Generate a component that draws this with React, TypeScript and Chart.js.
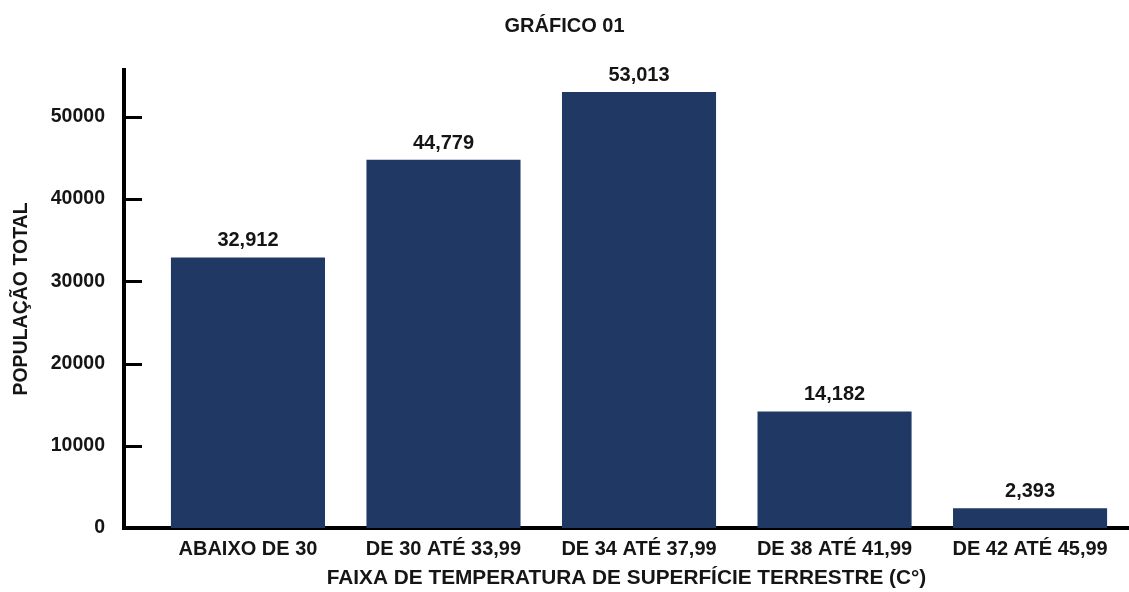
import React, { useEffect, useRef } from "react";
import { Chart, registerables } from "chart.js";

Chart.register(...registerables);

const categories = [
  "ABAIXO DE 30",
  "DE 30 ATÉ 33,99",
  "DE 34 ATÉ 37,99",
  "DE 38 ATÉ 41,99",
  "DE 42 ATÉ 45,99",
];
const population = [32912, 44779, 53013, 14182, 2393];
const yTicks = [0, 10000, 20000, 30000, 40000, 50000];

const FONT = "'Liberation Sans', Arial, sans-serif";
const BAR_COLOR = "#1F3864";
const TEXT_COLOR = "#151515";

const valueLabels = {
  id: "valueLabels",
  afterDatasetsDraw(chart: any) {
    const ctx = chart.ctx;
    const meta = chart.getDatasetMeta(0);
    ctx.save();
    ctx.font = `bold 20px ${FONT}`;
    ctx.fillStyle = TEXT_COLOR;
    ctx.textAlign = "center";
    ctx.textBaseline = "alphabetic";
    meta.data.forEach((bar: any, i: number) => {
      const v = population[i];
      ctx.fillText(v.toLocaleString("en-US"), bar.x, bar.y - 11);
    });
    ctx.restore();
  },
};

const innerTicks = {
  id: "innerTicks",
  afterDraw(chart: any) {
    const ctx = chart.ctx;
    const y = chart.scales.y;
    const left = chart.chartArea.left;
    ctx.save();
    ctx.strokeStyle = "#000";
    ctx.lineWidth = 3;
    y.ticks.forEach((t: any) => {
      if (t.value === 0) return;
      const py = Math.round(y.getPixelForValue(t.value)) + 0.5;
      ctx.beginPath();
      ctx.moveTo(left, py);
      ctx.lineTo(left + 18, py);
      ctx.stroke();
    });
    ctx.restore();
  },
};

export default function App() {
  const ref = useRef<HTMLCanvasElement>(null);
  useEffect(() => {
    if (!ref.current) return;
    const chart = new Chart(ref.current, {
      type: "bar",
      data: {
        datasets: [
          {
            data: population.map((v, i) => ({ x: i, y: v })),
            backgroundColor: BAR_COLOR,
            borderWidth: 0,
            barPercentage: 0.788,
            categoryPercentage: 1,
          },
        ],
      },
      options: {
        responsive: false,
        animation: false,
        layout: { padding: 0 },
        plugins: {
          legend: { display: false },
          tooltip: { enabled: false },
          title: {
            display: true,
            text: "GRÁFICO 01",
            color: TEXT_COLOR,
            font: { family: FONT, size: 20, weight: "bold" },
            padding: { top: 14, bottom: 32 },
          },
        },
        scales: {
          x: {
            type: "linear",
            offset: false,
            min: -0.634,
            max: 4.506,
            grid: { display: false, drawTicks: false, offset: false },
            border: { display: true, color: "#000", width: 4 },
            afterBuildTicks: (s: any) => {
              s.ticks = categories.map((_, i) => ({ value: i }));
            },
            ticks: {
              padding: 9,
              color: TEXT_COLOR,
              font: { family: FONT, size: 20, weight: "bold" },
              maxRotation: 0,
              autoSkip: false,
              callback: (v: any) =>
                Number.isInteger(v) && categories[v] ? categories[v] : "",
            },
            title: {
              display: true,
              text: "FAIXA DE TEMPERATURA DE SUPERFÍCIE TERRESTRE (C°)",
              color: TEXT_COLOR,
              font: { family: FONT, size: 20.8, weight: "bold" },
              padding: { top: 0, bottom: 1 },
            },
            afterFit: (s: any) => {
              s.height = 64;
            },
          },
          y: {
            min: 0,
            max: 55700,
            grid: { display: false, drawTicks: false },
            border: { display: true, color: "#000", width: 4 },
            afterBuildTicks: (s: any) => {
              s.ticks = yTicks.map((v) => ({ value: v }));
            },
            ticks: {
              padding: 19,
              color: TEXT_COLOR,
              font: { family: FONT, size: 19.5, weight: "bold" },
              callback: (v: any) => String(v),
            },
            title: {
              display: true,
              text: "POPULAÇÃO TOTAL",
              color: TEXT_COLOR,
              font: { family: FONT, size: 19.5, weight: "bold" },
              padding: { top: 10, bottom: 0 },
            },
            afterFit: (s: any) => {
              s.width = 124;
            },
          },
        },
      },
      plugins: [valueLabels, innerTicks],
    } as any);
    return () => chart.destroy();
  }, []);
  return (
    <div style={{ position: "fixed", left: 0, top: 0, width: 1129, height: 592, background: "#fff" }}>
      <canvas ref={ref} width={1129} height={592} />
    </div>
  );
}
